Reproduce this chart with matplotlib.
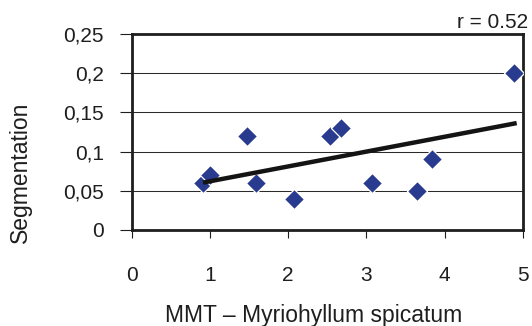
import numpy as np
import matplotlib
matplotlib.use('Agg')
import matplotlib.pyplot as plt

plt.rcParams['font.family'] = ['Liberation Sans', 'DejaVu Sans']

mmt = [0.91, 1.0, 1.47, 1.59, 2.07, 2.54, 2.68, 3.07, 3.65, 3.84, 4.89]
segmentation = [0.06, 0.07, 0.12, 0.06, 0.04, 0.12, 0.13, 0.06, 0.05, 0.09, 0.20]
y_ticks = [0, 0.05, 0.1, 0.15, 0.2, 0.25]
y_tick_labels = ['0', '0,05', '0,1', '0,15', '0,2', '0,25']
x_ticks = [0, 1, 2, 3, 4, 5]
r_label = 'r = 0.52'

INK = '#1e1e1e'

fig = plt.figure(figsize=(5.32, 3.26), dpi=100)
ax = fig.add_axes([0.2476, 0.2945, 0.7354, 0.6012])

for yv in y_ticks[1:-1]:
    ax.axhline(yv, color='#2a2a2a', lw=0.75, zorder=1)

ax.scatter(mmt, segmentation, marker='D', s=105, color='#283b8e',
           edgecolors='white', linewidths=0.9, zorder=3)

k, b = np.polyfit(mmt, segmentation, 1)
xs = np.array([min(mmt), 4.92])
ax.plot(xs, k * xs + b, color='#141414', lw=3.2, solid_capstyle='butt', zorder=4)

ax.set_xlim(0, 5)
ax.set_ylim(0, 0.25)
ax.set_xticks(x_ticks)
ax.set_yticks(y_ticks)
ax.set_yticklabels(y_tick_labels)
ax.tick_params(axis='y', direction='out', length=9, width=0.8, pad=11, labelsize=15, colors=INK)
ax.tick_params(axis='x', direction='out', length=6, width=0.8, pad=20, labelsize=15, colors=INK)
for s in ax.spines.values():
    s.set_linewidth(2.0)
    s.set_color(INK)

ax.set_ylabel('Segmentation', fontsize=16.5, color=INK)
ax.yaxis.label.set_va('center')
ax.yaxis.set_label_coords(-0.285, 0.296)
ax.set_xlabel('MMT – Myriohyllum spicatum', fontsize=16.5, color=INK)
ax.xaxis.label.set_va('baseline')
ax.xaxis.set_label_coords(0.466, -0.469)
fig.text(0.9925, 0.914, r_label, ha='right', va='baseline', fontsize=15, color=INK)

fig.savefig('out.png', dpi=100)
